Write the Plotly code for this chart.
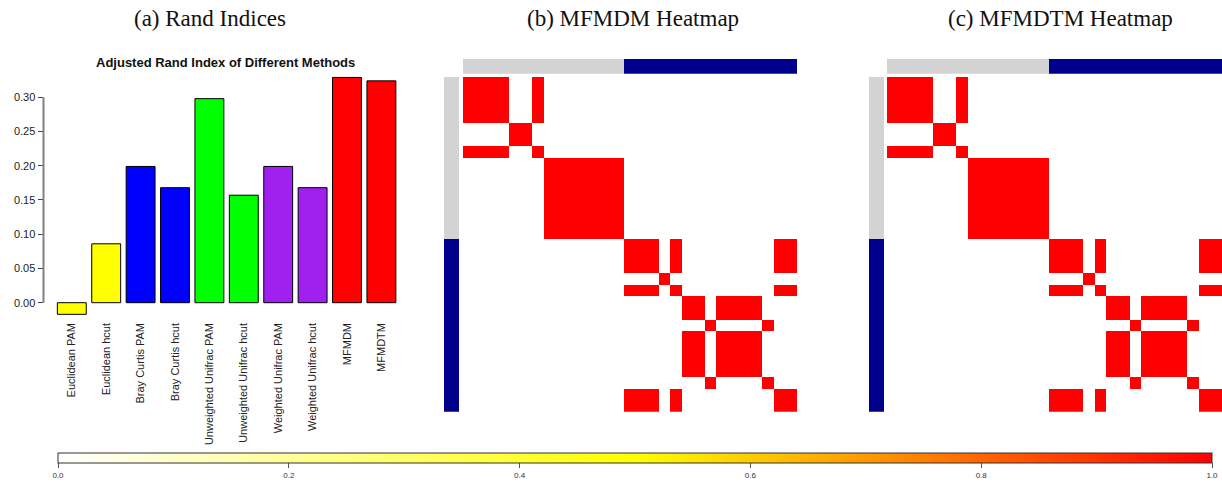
import numpy as np
import plotly.graph_objects as go

# ---------------- data ----------------
methods = ["Euclidean PAM", "Euclidean hcut", "Bray Curtis PAM", "Bray Curtis hcut",
           "Unweighted Unifrac PAM", "Unweighted Unifrac hcut",
           "Weighted Unifrac PAM", "Weighted Unifrac hcut", "MFMDM", "MFMDTM"]
ari_values = [-0.017, 0.086, 0.199, 0.168, 0.298, 0.157, 0.199, 0.168, 0.329, 0.324]
bar_colors = ["#FFFF00", "#FFFF00", "#0000FF", "#0000FF", "#00FF00", "#00FF00",
              "#A020F0", "#A020F0", "#FF0000", "#FF0000"]
y_ticks = [0.0, 0.05, 0.10, 0.15, 0.20, 0.25, 0.30]

# true groups of the 29 samples (0 = group 1, 1 = group 2)
true_group = [0] * 14 + [1] * 15
# estimated cluster labels (samples in heatmap order)
mfmdm_clusters = [1, 1, 1, 1, 2, 2, 1, 3, 3, 3, 3, 3, 3, 3,
                  4, 4, 4, 5, 4, 6, 6, 7, 6, 6, 6, 6, 7, 4, 4]
mfmdtm_clusters = [1, 1, 1, 1, 2, 2, 1, 3, 3, 3, 3, 3, 3, 3,
                   4, 4, 4, 5, 4, 6, 6, 7, 6, 6, 6, 6, 7, 4, 4]
colorbar_ticks = [0.0, 0.2, 0.4, 0.6, 0.8, 1.0]


def comembership(labels):
    a = np.array(labels)
    return (a[:, None] == a[None, :]).astype(float)


W, H = 1222, 485
def px(x):
    return x / W
def py(y):
    return 1 - y / H

heat_scale = [[0, "#FFFFFF"], [0.5, "#FFFF00"], [1, "#FF0000"]]
group_scale = [[0, "#D3D3D3"], [0.5, "#D3D3D3"], [0.5, "#00008B"], [1, "#00008B"]]

fig = go.Figure()

# ---------------- (a) bar chart ----------------
fig.add_trace(go.Bar(
    x=methods, y=ari_values, marker=dict(color=bar_colors, line=dict(color="#000000", width=1)),
    xaxis="x", yaxis="y", showlegend=False, hoverinfo="x+y"))

# scale: 0.00 -> 302.7px, 0.30 -> 97.3px
ppu = (302.7 - 97.3) / 0.30
ymin, ymax = -0.025, 0.335
y_top_px = 302.7 - ymax * ppu
y_bot_px = 302.7 - ymin * ppu
# bar centres: 71.8 + 34.4*i
x_left_px, x_right_px = 43.5, 400
xr0 = (x_left_px - 71.8) / 34.4
xr1 = (x_right_px - 71.8) / 34.4

layout_axes = dict(
    xaxis=dict(domain=[px(x_left_px), px(x_right_px)], range=[xr0, xr1], anchor="y",
               showline=False, showgrid=False, zeroline=False, ticks="",
               tickangle=-90, tickfont=dict(family="Liberation Sans, Arial", size=11, color="#222222"),
               fixedrange=True),
    yaxis=dict(domain=[py(y_bot_px), py(y_top_px)], range=[ymin, ymax], anchor="x",
               showline=False, showgrid=False, zeroline=False,
               tickvals=y_ticks, ticktext=[f"{v:.2f}" for v in y_ticks],
               ticks="outside", ticklen=5, tickcolor="#444444", tickwidth=1,
               tickfont=dict(family="Liberation Sans, Arial", size=11, color="#222222"),
               fixedrange=True),
)

shapes = [dict(type="line", xref="paper", yref="y", x0=px(x_left_px), x1=px(x_left_px),
               y0=0, y1=0.30, line=dict(color="#808080", width=2))]

# ---------------- heatmaps ----------------
def add_heat(labels, axn, x0, x1, ann_left_x0, ann_left_x1, show_scale):
    mat = comembership(labels)
    n = len(labels)
    xa, ya = f"x{axn}", f"y{axn}"
    fig.add_trace(go.Heatmap(z=mat, xaxis=xa, yaxis=ya, colorscale=heat_scale, zmin=0, zmax=1,
                             showscale=show_scale, xgap=0, ygap=0,
                             colorbar=dict(orientation="h", x=px((58 + 1212) / 2), xanchor="center",
                                           y=py(453.3), yanchor="top", len=(1212 - 58) / W,
                                           lenmode="fraction", thickness=10, thicknessmode="pixels",
                                           xpad=0, ypad=0, outlinewidth=1, outlinecolor="#333333",
                                           tickvals=colorbar_ticks,
                                           ticktext=[f"{v:.1f}" for v in colorbar_ticks],
                                           ticks="outside", ticklen=5, tickcolor="#555555",
                                           tickfont=dict(family="Liberation Sans Narrow, Liberation Sans", size=8, color="#333333"))))
    # top annotation
    fig.add_trace(go.Heatmap(z=[true_group], xaxis=f"x{axn+1}", yaxis=f"y{axn+1}",
                             colorscale=group_scale, zmin=0, zmax=1, showscale=False))
    # left annotation
    fig.add_trace(go.Heatmap(z=[[g] for g in true_group], xaxis=f"x{axn+2}", yaxis=f"y{axn+2}",
                             colorscale=group_scale, zmin=0, zmax=1, showscale=False))
    hidden = dict(showline=False, showgrid=False, zeroline=False, showticklabels=False, ticks="",
                  fixedrange=True)
    layout_axes[f"xaxis{axn}"] = dict(domain=[px(x0), px(x1)], range=[-0.5, n - 0.5], anchor=ya, **hidden)
    layout_axes[f"yaxis{axn}"] = dict(domain=[py(411.7), py(77)], range=[n - 0.5, -0.5], anchor=xa, **hidden)
    layout_axes[f"xaxis{axn+1}"] = dict(domain=[px(x0), px(x1)], range=[-0.5, n - 0.5], anchor=f"y{axn+1}", **hidden)
    layout_axes[f"yaxis{axn+1}"] = dict(domain=[py(73.7), py(59)], range=[-0.5, 0.5], anchor=f"x{axn+1}", **hidden)
    layout_axes[f"xaxis{axn+2}"] = dict(domain=[px(ann_left_x0), px(ann_left_x1)], range=[-0.5, 0.5], anchor=f"y{axn+2}", **hidden)
    layout_axes[f"yaxis{axn+2}"] = dict(domain=[py(411.7), py(77)], range=[n - 0.5, -0.5], anchor=f"x{axn+2}", **hidden)

add_heat(mfmdm_clusters, 2, 463, 797, 444, 459, True)
add_heat(mfmdtm_clusters, 5, 887, 1222, 869, 884, False)

# ---------------- titles ----------------
title_font = dict(family="Liberation Serif, Times New Roman", size=23, color="#111111")
annotations = [
    dict(text="(a) Rand Indices", x=px(210), y=py(19), xref="paper", yref="paper",
         showarrow=False, xanchor="center", yanchor="middle", font=title_font),
    dict(text="(b) MFMDM Heatmap", x=px(632.5), y=py(19), xref="paper", yref="paper",
         showarrow=False, xanchor="center", yanchor="middle", font=title_font),
    dict(text="(c) MFMDTM Heatmap", x=px(1060), y=py(19), xref="paper", yref="paper",
         showarrow=False, xanchor="center", yanchor="middle", font=title_font),
    dict(text="<b>Adjusted Rand Index of Different Methods</b>", x=px(226), y=py(63),
         xref="paper", yref="paper", showarrow=False, xanchor="center", yanchor="middle",
         font=dict(family="Liberation Sans, Arial", size=13, color="#111111")),
]

fig.update_layout(
    width=W, height=H, margin=dict(l=0, r=0, t=0, b=0),
    paper_bgcolor="white", plot_bgcolor="white",
    bargap=0.16, shapes=shapes, annotations=annotations,
    **layout_axes,
)

fig.write_html("out.html", config={"displayModeBar": False},
               post_script="document.body.style.margin='0px';document.body.style.overflow='hidden';")
